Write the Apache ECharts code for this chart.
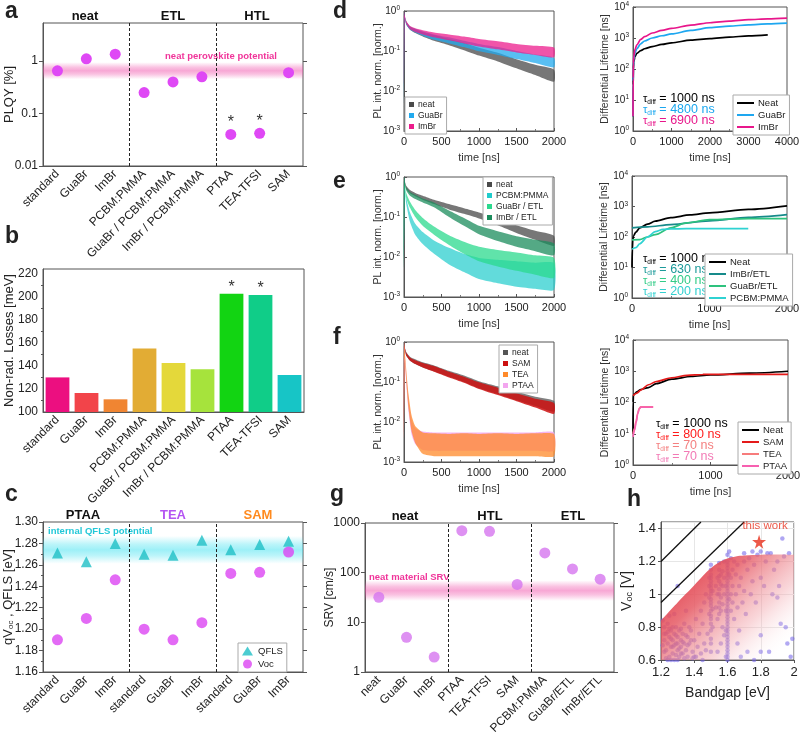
<!DOCTYPE html>
<html>
<head>
<meta charset="utf-8">
<script src="https://cdn.jsdelivr.net/npm/echarts@6.0.0/dist/echarts.min.js"></script>
<style>
html,body{margin:0;padding:0;background:#fff}
#chart{width:800px;height:735px}
</style>
</head>
<body>
<div id="chart"></div>
<script>
var FONT = 'Liberation Sans, Arial, sans-serif';

// ---------- a / b : samples
var sampleCats = ['standard','GuaBr','ImBr','PCBM:PMMA','GuaBr / PCBM:PMMA','ImBr / PCBM:PMMA','PTAA','TEA-TFSI','SAM'];
var plqy = [0.65, 1.1, 1.35, 0.25, 0.4, 0.5, 0.04, 0.042, 0.6];
var starred = [0, 0, 0, 0, 0, 0, 1, 1, 0];
var nonRadLoss = [130, 116.5, 111, 155, 142.5, 137, 202.5, 201.5, 132];
var lossColors = ['#ec0f80','#f2444a','#f08532','#e2ac34','#e4d83a','#a6e33c','#12d412','#10cd88','#17c5c6'];

// ---------- c : QFLS / Voc
var qflsCats = ['standard','GuaBr','ImBr','standard','GuaBr','ImBr','standard','GuaBr','ImBr'];
var qfls = [1.271, 1.263, 1.280, 1.270, 1.269, 1.283, 1.274, 1.279, 1.282];
var voc = [1.190, 1.210, 1.246, 1.200, 1.190, 1.206, 1.252, 1.253, 1.272];

// ---------- g : SRV
var srvCats = ['neat','GuaBr','ImBr','PTAA','TEA-TFSI','SAM','PCBM:PMMA','GuaBr/ETL','ImBr/ETL'];
var srv = [32, 5, 2, 700, 680, 58, 250, 119, 74];

// ---------- d/e/f left : PL decays (lower / upper edge of the noisy cloud)
var tD = [0, 10, 30, 80, 150, 250, 400, 600, 800, 1000, 1250, 1500, 1750, 2000];
var dNeatHi  = [1, 0.75, 0.55, 0.41, 0.35, 0.30, 0.25, 0.20, 0.16, 0.12, 0.09, 0.062, 0.045, 0.034];
var dNeatLo  = [0.004, 0.65, 0.46, 0.34, 0.28, 0.23, 0.18, 0.14, 0.105, 0.077, 0.055, 0.037, 0.025, 0.017];
var dGuaHi   = [1, 0.75, 0.55, 0.41, 0.36, 0.31, 0.26, 0.22, 0.18, 0.15, 0.125, 0.10, 0.082, 0.068];
var dGuaLo   = [0.004, 0.65, 0.46, 0.34, 0.29, 0.24, 0.19, 0.155, 0.125, 0.098, 0.08, 0.063, 0.05, 0.039];
var dImHi    = [1, 0.78, 0.57, 0.42, 0.37, 0.33, 0.29, 0.26, 0.23, 0.20, 0.175, 0.15, 0.135, 0.122];
var dImLo    = [0.015, 0.67, 0.48, 0.35, 0.30, 0.26, 0.22, 0.185, 0.155, 0.13, 0.11, 0.092, 0.08, 0.07];

var eNeatHi  = [1, 0.8, 0.6, 0.47, 0.40, 0.34, 0.27, 0.21, 0.165, 0.13, 0.092, 0.062, 0.045, 0.034];
var eNeatLo  = [0.005, 0.7, 0.5, 0.39, 0.33, 0.27, 0.21, 0.155, 0.12, 0.092, 0.062, 0.04, 0.027, 0.019];
var eImHi    = [1, 0.76, 0.56, 0.42, 0.36, 0.29, 0.23, 0.145, 0.094, 0.06, 0.044, 0.033, 0.027, 0.022];
var eImLo    = [0.005, 0.65, 0.46, 0.34, 0.28, 0.23, 0.175, 0.10, 0.06, 0.037, 0.025, 0.018, 0.014, 0.011];
var eGuaHi   = [1, 0.66, 0.40, 0.24, 0.15, 0.095, 0.058, 0.035, 0.024, 0.018, 0.015, 0.013, 0.011, 0.0095];
var eGuaLo   = [0.005, 0.55, 0.30, 0.17, 0.10, 0.06, 0.036, 0.02, 0.012, 0.0078, 0.0058, 0.0045, 0.0036, 0.003];
var ePcbmHi  = [1, 0.56, 0.30, 0.13, 0.068, 0.042, 0.026, 0.017, 0.012, 0.0095, 0.0085, 0.0078, 0.0072, 0.007];
var ePcbmLo  = [0.004, 0.45, 0.21, 0.075, 0.036, 0.021, 0.012, 0.0065, 0.0042, 0.0028, 0.0022, 0.0018, 0.0016, 0.0015];

var fNeatHi  = [1, 0.76, 0.56, 0.43, 0.37, 0.31, 0.26, 0.19, 0.145, 0.105, 0.078, 0.057, 0.043, 0.034];
var fNeatLo  = [0.005, 0.65, 0.45, 0.34, 0.28, 0.23, 0.185, 0.135, 0.10, 0.07, 0.05, 0.035, 0.025, 0.018];
var fSamHi   = [1, 0.74, 0.54, 0.41, 0.35, 0.30, 0.25, 0.18, 0.135, 0.098, 0.072, 0.052, 0.038, 0.03];
var fSamLo   = [0.005, 0.64, 0.45, 0.34, 0.28, 0.23, 0.18, 0.13, 0.096, 0.067, 0.047, 0.033, 0.023, 0.016];
var tF = [0, 10, 20, 40, 60, 100, 150, 250, 400, 600, 800, 1000, 1250, 1500, 1750, 2000];
var fTeaHi   = [1, 0.6, 0.35, 0.12, 0.05, 0.015, 0.008, 0.0055, 0.0052, 0.005, 0.0052, 0.005, 0.0052, 0.005, 0.0052, 0.005];
var fTeaLo   = [0.004, 0.4, 0.2, 0.06, 0.022, 0.006, 0.003, 0.0016, 0.0014, 0.0014, 0.0014, 0.0014, 0.0014, 0.0014, 0.0014, 0.0014];
var fPtaaHi  = [1, 0.55, 0.3, 0.1, 0.04, 0.012, 0.007, 0.0058, 0.0055, 0.0055, 0.0055, 0.0055, 0.0055, 0.0055, 0.0055, 0.0055];
var fPtaaLo  = [0.004, 0.35, 0.17, 0.05, 0.018, 0.005, 0.0028, 0.002, 0.0019, 0.0019, 0.0019, 0.0019, 0.0019, 0.0019, 0.0019, 0.0019];

// ---------- d/e/f right : differential lifetime
var dNeatT = [0, 5, 10, 20, 50, 100, 200, 300, 500, 750, 1000, 1500, 2000, 2500, 3000, 3500];
var dNeatV = [3, 30, 100, 170, 250, 320, 390, 450, 530, 620, 700, 850, 960, 1070, 1170, 1260];
var dGuaT  = [0, 5, 10, 20, 50, 100, 200, 300, 500, 750, 1000, 1500, 2000, 2500, 3000, 3500, 4000];
var dGuaV  = [3, 40, 120, 200, 330, 450, 650, 800, 1000, 1180, 1350, 1750, 2150, 2420, 2650, 2850, 3000];
var dImV   = [3, 50, 150, 250, 420, 600, 900, 1100, 1450, 1750, 2050, 2600, 3100, 3500, 3900, 4150, 4400];

var eNeatT = [0, 5, 10, 20, 50, 100, 200, 300, 500, 750, 1000, 1500, 2000];
var eNeatV = [10, 40, 80, 110, 145, 200, 265, 330, 430, 530, 620, 800, 1050];
var eImT   = [0, 200, 500, 1000, 1500, 2000];
var eImV   = [200, 215, 255, 340, 440, 540];
var eGuaT  = [0, 100, 200, 300, 500, 700, 1000, 1500, 2000];
var eGuaV  = [80, 82, 100, 120, 200, 290, 370, 400, 400];
var ePcbmT = [0, 50, 100, 200, 300, 400, 500, 700, 1000, 1500];
var ePcbmV = [40, 45, 60, 100, 150, 178, 185, 187, 187, 187];

var fNeatT = [0, 2, 5, 20, 50, 100, 200, 300, 500, 750, 1000, 1500, 2000];
var fNeatV = [10, 100, 170, 190, 220, 260, 300, 400, 560, 680, 760, 870, 1000];
var fSamT  = [0, 50, 100, 200, 300, 500, 700, 900, 1200, 1600, 2000];
var fSamV  = [165, 200, 250, 370, 470, 620, 740, 790, 800, 800, 800];
var fTeaT  = [0, 20, 40, 60, 80, 100, 260];
var fTeaV  = [10, 15, 25, 45, 65, 72, 72];
var fPtaaV = [8, 13, 23, 42, 62, 71, 71];

// ---------- h : Voc vs bandgap
var sqLineEg = [1.2, 1.44];
var sqLineV  = [1.2, 1.44];
var lossLineEg = [1.2, 1.7];
var lossLineV  = [0.95, 1.44];
var limitEg = [1.2, 1.3, 1.4, 1.45, 1.5, 1.55, 1.6, 1.65, 1.7, 1.8, 1.9, 2.0];
var limitV  = [0.84, 0.95, 1.055, 1.11, 1.158, 1.195, 1.218, 1.23, 1.236, 1.241, 1.242, 1.24];
var litPoints = [
  [1.21,0.84],[1.22,0.8],[1.22,0.72],[1.23,0.76],[1.23,0.66],[1.24,0.7],[1.24,0.82],[1.25,0.74],[1.25,0.62],
  [1.26,0.78],[1.26,0.68],[1.27,0.72],[1.27,0.64],[1.28,0.76],[1.28,0.6],[1.29,0.7],[1.29,0.8],[1.3,0.74],
  [1.3,0.66],[1.31,0.78],[1.31,0.62],[1.32,0.72],[1.32,0.68],[1.33,0.76],[1.33,0.64],[1.34,0.7],[1.34,0.82],
  [1.35,0.66],[1.36,0.74],[1.36,0.62],[1.37,0.7],[1.38,0.78],[1.39,0.65],[1.4,0.72],[1.41,0.62],[1.42,0.68],
  [1.43,0.76],[1.44,0.64],[1.46,0.7],[1.47,0.66],[1.25,0.87],[1.28,0.88],[1.3,1.05],[1.35,0.9],[1.4,0.62],
  [1.22,0.65],[1.26,0.6],[1.3,0.6],[1.24,0.77],[1.27,0.8],[1.29,0.75],[1.32,0.79],[1.37,0.8],[1.41,0.85],
  [1.21,0.69],[1.23,0.61],[1.25,0.79],[1.26,0.73],[1.28,0.69],[1.3,0.7],[1.31,0.67],[1.33,0.71],[1.35,0.75],
  [1.36,0.69],[1.38,0.72],[1.39,0.61],[1.27,0.68],[1.29,0.63],[1.24,0.6],[1.22,0.76],[1.34,0.61],[1.32,0.64],
  [1.45,0.82],[1.44,0.9],[1.46,0.95],[1.47,1.0],[1.48,0.76],[1.45,0.6],
  [1.5,0.7],[1.5,0.78],[1.5,0.85],[1.5,0.9],[1.5,0.95],[1.5,1.0],[1.5,1.04],[1.5,1.08],[1.5,1.12],[1.5,1.15],
  [1.49,0.98],[1.51,1.02],[1.49,0.88],[1.51,0.8],[1.5,0.65],[1.5,1.18],[1.49,1.1],
  [1.5,0.73],[1.5,0.82],[1.5,0.87],[1.5,0.93],[1.5,0.97],[1.5,1.02],[1.5,1.06],[1.5,1.1],[1.51,0.91],[1.49,1.05],
  [1.53,0.92],[1.53,1.05],[1.54,1.1],[1.54,0.85],[1.55,0.95],[1.55,1.0],[1.55,1.08],[1.55,1.15],[1.55,1.19],
  [1.56,0.9],[1.56,1.12],[1.57,1.05],[1.57,0.8],[1.58,1.0],[1.58,1.1],[1.58,1.2],[1.58,0.75],[1.56,0.7],[1.54,0.65],
  [1.55,0.88],[1.55,0.92],[1.55,1.03],[1.55,1.11],[1.56,0.98],[1.56,1.06],[1.57,0.94],[1.57,1.14],[1.54,1.0],
  [1.6,0.6],[1.6,0.64],[1.6,0.68],[1.6,0.72],[1.6,0.76],[1.6,0.8],[1.6,0.84],[1.6,0.88],[1.6,0.92],[1.6,0.96],
  [1.6,1.0],[1.6,1.04],[1.6,1.08],[1.6,1.12],[1.6,1.16],[1.6,1.2],[1.6,1.24],[1.61,1.26],[1.59,0.62],[1.59,0.9],
  [1.6,0.62],[1.6,0.66],[1.6,0.7],[1.6,0.74],[1.6,0.78],[1.6,0.82],[1.6,0.86],[1.6,0.9],[1.6,0.94],[1.6,0.98],
  [1.6,1.02],[1.6,1.06],[1.6,1.1],[1.6,1.14],[1.6,1.18],[1.59,1.05],[1.61,0.97],[1.59,0.78],[1.61,1.12],
  [1.62,0.9],[1.62,1.0],[1.62,1.1],[1.63,1.15],[1.63,0.95],[1.63,1.05],[1.64,1.2],[1.64,0.85],[1.65,1.0],
  [1.65,1.12],[1.66,0.92],[1.66,1.18],[1.67,1.05],[1.67,0.78],
  [1.68,1.1],[1.69,0.95],[1.7,1.2],[1.7,1.02],[1.71,0.88],[1.72,1.15],[1.73,1.22],[1.74,1.0],[1.75,1.08],
  [1.76,1.18],[1.77,0.95],[1.78,1.24],[1.8,0.75],[1.8,0.65],[1.8,1.1],[1.82,1.05],[1.83,1.2],
  [1.85,0.65],[1.86,1.25],[1.87,1.0],[1.88,1.15],[1.9,0.98],[1.9,1.2],[1.91,1.05],[1.92,0.82],[1.93,1.34],
  [1.94,1.23],[1.95,0.8],[1.96,0.7],[1.97,1.25],[1.98,0.62],[1.99,0.73],[1.72,0.65],[1.76,0.6],[1.68,0.62],
  [1.66,0.7],[1.7,1.25],[1.75,1.26],[1.84,1.25],[1.8,1.26],[1.62,1.22]
];
var thisWork = [[1.79, 1.32]];

// ---------------------------------------------------------------------------
var chart = echarts.init(document.getElementById('chart'));

function zip(a, b) { return a.map(function (v, i) { return [v, b[i]]; }); }
function plain(v) { return String(v); }

var grids = [
  {left: 43,  top: 23,  width: 260, height: 143},  // 0 a
  {left: 43,  top: 269, width: 261, height: 143},  // 1 b
  {left: 43,  top: 522, width: 260, height: 150},  // 2 c
  {left: 365, top: 523, width: 249, height: 149},  // 3 g
  {left: 404, top: 11,  width: 150, height: 120},  // 4 d left
  {left: 633, top: 7,   width: 154, height: 124},  // 5 d right
  {left: 404, top: 177, width: 150, height: 120},  // 6 e left
  {left: 632, top: 176, width: 155, height: 122},  // 7 e right
  {left: 404, top: 342, width: 150, height: 120},  // 8 f left
  {left: 633, top: 340, width: 155, height: 125},  // 9 f right
  {left: 661, top: 522, width: 133, height: 138}   // 10 h
];
grids.forEach(function (g) {
  g.show = true; g.borderColor = '#555'; g.borderWidth = 1; g.outerBoundsMode = 'none'; g.containLabel = false;
});

var axisLineSt = {show: true, lineStyle: {color: '#555', width: 1}};
var labelSt = {color: '#222', fontFamily: FONT};

function catX(gi, cats) {
  return {type: 'category', gridIndex: gi, data: cats, boundaryGap: true,
    axisLine: axisLineSt, axisTick: {alignWithLabel: true, length: 4, lineStyle: {color: '#555'}},
    splitLine: {show: false},
    axisLabel: Object.assign({interval: 0, rotate: 45, fontSize: 12, margin: 6}, labelSt)};
}
function topX(gi, cats) {
  return {type: 'category', gridIndex: gi, data: cats, position: 'top', boundaryGap: true,
    axisLine: {show: false}, axisLabel: {show: false}, splitLine: {show: false},
    axisTick: {alignWithLabel: true, length: 4, lineStyle: {color: '#555'}}};
}
function timeX(gi, max, step) {
  return {type: 'value', gridIndex: gi, min: 0, max: max, interval: step,
    name: 'time [ns]', nameLocation: 'middle', nameGap: 21, nameMoveOverlap: false,
    nameTextStyle: {fontSize: 11, color: '#333', fontFamily: FONT},
    axisLine: axisLineSt, axisTick: {inside: true, length: 3, lineStyle: {color: '#555'}},
    minorTick: {show: true, splitNumber: 2, length: 2, lineStyle: {color: '#777'}},
    splitLine: {show: false},
    axisLabel: Object.assign({fontSize: 11, margin: 5, formatter: plain}, labelSt)};
}
function helperX(gi) { return {type: 'value', gridIndex: gi, min: 0, max: 9, show: false}; }

function supFmt(v) { return '10{s|' + Math.round(Math.log(v) / Math.LN10) + '}'; }
function logSupY(gi, min, max, name, gap) {
  return {type: 'log', gridIndex: gi, min: min, max: max, logBase: 10,
    name: name, nameLocation: 'middle', nameGap: gap, nameMoveOverlap: false,
    nameTextStyle: {fontSize: 10.5, color: '#333', fontFamily: FONT},
    axisLine: axisLineSt, axisTick: {inside: true, length: 3, lineStyle: {color: '#555'}},
    splitLine: {show: false},
    axisLabel: {formatter: supFmt, fontSize: 10, color: '#222', fontFamily: FONT, margin: 4,
      rich: {s: {fontSize: 6.5, fontFamily: FONT, color: '#222', verticalAlign: 'top', lineHeight: 12}}}};
}
function mirrorY(gi, type, min, max, interval) {
  var ax = {type: type, gridIndex: gi, min: min, max: max, position: 'right',
    axisLine: {show: false}, axisLabel: {show: false}, splitLine: {show: false},
    axisTick: {length: 4, lineStyle: {color: '#555'}}};
  if (type === 'log') ax.logBase = 10;
  if (interval) ax.interval = interval;
  return ax;
}

var xAxes = [
  catX(0, sampleCats), catX(1, sampleCats), catX(2, qflsCats), catX(3, srvCats),
  timeX(4, 2000, 500), timeX(5, 4000, 1000), timeX(6, 2000, 500), timeX(7, 2000, 1000),
  timeX(8, 2000, 500), timeX(9, 2000, 1000),
  {type: 'value', gridIndex: 10, min: 1.2, max: 2, interval: 0.2,
    name: 'Bandgap [eV]', nameLocation: 'middle', nameGap: 26, nameMoveOverlap: false,
    nameTextStyle: {fontSize: 14, color: '#222', fontFamily: FONT},
    axisLine: axisLineSt, axisTick: {length: 3, lineStyle: {color: '#555'}},
    splitLine: {show: true, lineStyle: {color: '#e6e6e6'}},
    axisLabel: Object.assign({fontSize: 13, margin: 6}, labelSt)},
  helperX(0), helperX(2), helperX(3),
  topX(0, sampleCats), topX(1, sampleCats), topX(2, qflsCats), topX(3, srvCats)
];

var yAxes = [
  {type: 'log', gridIndex: 0, min: 0.01, max: 5.3, logBase: 10,
    name: 'PLQY [%]', nameLocation: 'middle', nameGap: 27, nameMoveOverlap: false,
    nameTextStyle: {fontSize: 13, color: '#222', fontFamily: FONT},
    axisLine: axisLineSt, axisTick: {length: 4, lineStyle: {color: '#555'}}, splitLine: {show: false},
    axisLabel: Object.assign({fontSize: 12, showMaxLabel: false, margin: 5}, labelSt)},
  {type: 'value', gridIndex: 1, min: 100, max: 224, interval: 20,
    name: 'Non-rad. Losses [meV]', nameLocation: 'middle', nameGap: 27, nameMoveOverlap: false,
    nameTextStyle: {fontSize: 13, color: '#222', fontFamily: FONT},
    axisLine: axisLineSt, axisTick: {length: 4, lineStyle: {color: '#555'}},
    minorTick: {show: true, splitNumber: 2, length: 2, lineStyle: {color: '#555'}},
    splitLine: {show: false},
    axisLabel: Object.assign({fontSize: 12, showMaxLabel: false, margin: 5}, labelSt)},
  {type: 'value', gridIndex: 2, min: 1.16, max: 1.30, interval: 0.02,
    name: '{n|qV}{s|oc}{n| , QFLS [eV]}', nameLocation: 'middle', nameGap: 28, nameMoveOverlap: false,
    nameTextStyle: {fontSize: 13, color: '#222', fontFamily: FONT,
      rich: {n: {fontSize: 13, fontFamily: FONT, color: '#222'}, s: {fontSize: 8, fontFamily: FONT, color: '#222', verticalAlign: 'bottom'}}},
    axisLine: axisLineSt, axisTick: {length: 4, lineStyle: {color: '#555'}},
    minorTick: {show: true, splitNumber: 2, length: 2, lineStyle: {color: '#555'}},
    splitLine: {show: false},
    axisLabel: Object.assign({fontSize: 12, margin: 5, formatter: function (v) { return v.toFixed(2); }}, labelSt)},
  {type: 'log', gridIndex: 3, min: 1, max: 1000, logBase: 10,
    name: 'SRV [cm/s]', nameLocation: 'middle', nameGap: 29, nameMoveOverlap: false,
    nameTextStyle: {fontSize: 12, color: '#222', fontFamily: FONT},
    axisLine: axisLineSt, axisTick: {length: 4, lineStyle: {color: '#555'}}, splitLine: {show: false},
    axisLabel: Object.assign({fontSize: 12, margin: 5, formatter: plain}, labelSt)},
  logSupY(4, 0.001, 1, 'PL int. norm. [norm.]', 20),
  logSupY(5, 1, 10000, 'Differential Lifetime [ns]', 22),
  logSupY(6, 0.001, 1, 'PL int. norm. [norm.]', 20),
  logSupY(7, 1, 10000, 'Differential Lifetime [ns]', 22),
  logSupY(8, 0.001, 1, 'PL int. norm. [norm.]', 20),
  logSupY(9, 1, 10000, 'Differential Lifetime [ns]', 22),
  {type: 'value', gridIndex: 10, min: 0.6, max: 1.44, interval: 0.2,
    name: '{n|V}{s|oc}{n| [V]}', nameLocation: 'middle', nameGap: 27, nameMoveOverlap: false,
    nameTextStyle: {fontSize: 14, color: '#222', fontFamily: FONT,
      rich: {n: {fontSize: 14, fontFamily: FONT, color: '#222'}, s: {fontSize: 9, fontFamily: FONT, color: '#222', verticalAlign: 'bottom'}}},
    axisLine: axisLineSt, axisTick: {length: 3, lineStyle: {color: '#555'}},
    splitLine: {show: true, lineStyle: {color: '#e6e6e6'}},
    axisLabel: Object.assign({fontSize: 13, showMaxLabel: false, margin: 5}, labelSt)},
  mirrorY(0, 'log', 0.01, 5.3), mirrorY(1, 'value', 100, 224, 20),
  mirrorY(2, 'value', 1.16, 1.30, 0.02), mirrorY(3, 'log', 1, 1000)
];

function vBand(rgb, a) {
  return new echarts.graphic.LinearGradient(0, 0, 0, 1, [
    {offset: 0, color: 'rgba(' + rgb + ',0)'},
    {offset: 0.3, color: 'rgba(' + rgb + ',' + (a * 0.7) + ')'},
    {offset: 0.5, color: 'rgba(' + rgb + ',' + a + ')'},
    {offset: 0.7, color: 'rgba(' + rgb + ',' + (a * 0.7) + ')'},
    {offset: 1, color: 'rgba(' + rgb + ',0)'}
  ]);
}
function dividers(xi, yi) {
  return {type: 'line', xAxisIndex: xi, yAxisIndex: yi, data: [], silent: true,
    markLine: {symbol: 'none', silent: true, label: {show: false},
      lineStyle: {type: [3, 2], color: '#222', width: 1},
      data: [{xAxis: 3}, {xAxis: 6}]}};
}
function band(name, gi, t, lo, hi, color, op) {
  return {name: name, type: 'custom', xAxisIndex: gi, yAxisIndex: gi, itemStyle: {color: color},
    data: t.map(function (v, i) { return [v, lo[i], hi[i]]; }),
    encode: {x: 0, y: [1, 2]},
    renderItem: function (params, api) {
      if (params.dataIndex !== 0) return null;
      var pts = [];
      for (var i = 0; i < t.length; i++) pts.push(api.coord([t[i], lo[i]]));
      for (var j = t.length - 1; j >= 0; j--) pts.push(api.coord([t[j], hi[j]]));
      return {type: 'polygon', shape: {points: pts, smooth: 0.2}, style: {fill: color, opacity: op}};
    }};
}
function curve(name, gi, t, v, color) {
  return {name: name, type: 'line', xAxisIndex: gi, yAxisIndex: gi, data: zip(t, v),
    symbol: 'none', showSymbol: false, smooth: 0.3, smoothMonotone: 'x',
    lineStyle: {color: color, width: 1.7}, itemStyle: {color: color}, z: 3};
}
function starLabel() {
  return {show: true, formatter: '*', position: 'top', distance: -2, fontSize: 16, color: '#333', fontFamily: FONT};
}

var series = [
  // a
  {type: 'scatter', xAxisIndex: 0, yAxisIndex: 0, symbolSize: 11, itemStyle: {color: '#df48f5', opacity: 1},
    data: plqy.map(function (v, i) { return starred[i] ? {value: [i, v], label: starLabel()} : [i, v]; }),
    markArea: {silent: true, itemStyle: {color: vBand('240,80,170', 0.5)}, data: [[{yAxis: 0.45}, {yAxis: 0.95}]]}, z: 4},
  dividers(11, 0),
  // b
  {type: 'bar', xAxisIndex: 1, yAxisIndex: 1, barCategoryGap: '18%',
    data: nonRadLoss.map(function (v, i) {
      var d = {value: v, itemStyle: {color: lossColors[i]}};
      if (starred[i]) d.label = starLabel();
      return d;
    })},
  // c
  {name: 'c|QFLS', type: 'scatter', xAxisIndex: 2, yAxisIndex: 2, symbol: 'triangle', symbolSize: 11,
    itemStyle: {color: '#1fbfc5'}, data: qfls.map(function (v, i) { return [i, v]; }),
    markArea: {silent: true, itemStyle: {color: vBand('60,225,240', 0.5)}, data: [[{yAxis: 1.261}, {yAxis: 1.287}]]}, z: 4},
  {name: 'c|Voc', type: 'scatter', xAxisIndex: 2, yAxisIndex: 2, symbolSize: 11,
    itemStyle: {color: '#dc45f3'}, data: voc.map(function (v, i) { return [i, v]; }), z: 4},
  dividers(12, 2),
  // g
  {type: 'scatter', xAxisIndex: 3, yAxisIndex: 3, symbolSize: 11, itemStyle: {color: '#d675ef'},
    data: srv.map(function (v, i) { return [i, v]; }),
    markArea: {silent: true, itemStyle: {color: vBand('240,80,170', 0.5)}, data: [[{yAxis: 27}, {yAxis: 70}]]}, z: 4},
  dividers(13, 3),
  // d left
  band('dL|neat', 4, tD, dNeatLo, dNeatHi, '#4a4a4a', 0.75),
  band('dL|GuaBr', 4, tD, dGuaLo, dGuaHi, '#22aaee', 0.75),
  band('dL|ImBr', 4, tD, dImLo, dImHi, '#ec1c8c', 0.75),
  // d right
  curve('dR|Neat', 5, dNeatT, dNeatV, '#000000'),
  curve('dR|GuaBr', 5, dGuaT, dGuaV, '#1ea7f0'),
  curve('dR|ImBr', 5, dGuaT, dImV, '#e8168b'),
  // e left
  band('eL|neat', 6, tD, eNeatLo, eNeatHi, '#4a4a4a', 0.75),
  band('eL|PCBM:PMMA', 6, tD, ePcbmLo, ePcbmHi, '#1fcccc', 0.7),
  band('eL|GuaBr / ETL', 6, tD, eGuaLo, eGuaHi, '#2bd98e', 0.75),
  band('eL|ImBr / ETL', 6, tD, eImLo, eImHi, '#1b8c5c', 0.75),
  // e right
  curve('eR|Neat', 7, eNeatT, eNeatV, '#000000'),
  curve('eR|ImBr/ETL', 7, eImT, eImV, '#168a8a'),
  curve('eR|GuaBr/ETL', 7, eGuaT, eGuaV, '#2ec27e'),
  curve('eR|PCBM:PMMA', 7, ePcbmT, ePcbmV, '#2fd2d2'),
  // f left
  band('fL|neat', 8, tD, fNeatLo, fNeatHi, '#555555', 0.75),
  band('fL|SAM', 8, tD, fSamLo, fSamHi, '#cc1010', 0.85),
  band('fL|PTAA', 8, tF, fPtaaLo, fPtaaHi, '#f3a6ef', 0.85),
  band('fL|TEA', 8, tF, fTeaLo, fTeaHi, '#ff8a2a', 0.75),
  // f right
  curve('fR|Neat', 9, fNeatT, fNeatV, '#000000'),
  curve('fR|SAM', 9, fSamT, fSamV, '#e41a1a'),
  curve('fR|TEA', 9, fTeaT, fTeaV, '#f77c7c'),
  curve('fR|PTAA', 9, fTeaT, fPtaaV, '#f760b0'),
  // h
  {type: 'line', xAxisIndex: 10, yAxisIndex: 10, data: zip(limitEg, limitV), symbol: 'none', smooth: 0.4,
    lineStyle: {width: 0}, silent: true,
    areaStyle: {origin: 'start', opacity: 1, color: new echarts.graphic.LinearGradient(0.1, 0, 0.85, 1, [
      {offset: 0, color: 'rgba(224,50,62,1)'},
      {offset: 0.35, color: 'rgba(230,90,100,0.85)'},
      {offset: 0.7, color: 'rgba(242,165,172,0.45)'},
      {offset: 1, color: 'rgba(255,255,255,0)'}])}},
  {type: 'scatter', xAxisIndex: 10, yAxisIndex: 10, data: litPoints, symbolSize: 4.5,
    itemStyle: {color: 'rgba(112,96,232,0.7)'}, silent: true},
  {type: 'line', xAxisIndex: 10, yAxisIndex: 10, data: zip(sqLineEg, sqLineV), symbol: 'none',
    lineStyle: {color: '#111', width: 1.3}, clip: true},
  {type: 'line', xAxisIndex: 10, yAxisIndex: 10, data: zip(lossLineEg, lossLineV), symbol: 'none',
    lineStyle: {color: '#111', width: 1.3}, clip: true},
  {type: 'scatter', xAxisIndex: 10, yAxisIndex: 10, data: thisWork, symbolSize: 14,
    symbol: 'path://M50,0 L61,35 L98,35 L68,57 L79,91 L50,70 L21,91 L32,57 L2,35 L39,35 Z',
    itemStyle: {color: '#e8301c'},
    label: {show: true, formatter: 'this work', position: 'top', distance: 3, offset: [6, 0],
      fontSize: 11.5, color: '#e8301c', fontFamily: FONT}, z: 5}
];

function legendBox(names, left, top, lineIcon, extra) {
  var l = {data: names, left: left, top: top, orient: 'vertical', itemGap: 2,
    icon: 'rect', itemWidth: lineIcon ? 17 : 5, itemHeight: lineIcon ? 2 : 5,
    padding: [3, 4, 3, 4], borderColor: '#aaa', borderWidth: 1, backgroundColor: '#fff',
    selectedMode: false,
    formatter: function (n) { return n.split('|')[1]; },
    textStyle: {fontSize: lineIcon ? 9.5 : 8.5, color: '#222', fontFamily: FONT, padding: [0, 0, 0, -1]}};
  return Object.assign(l, extra || {});
}

var legends = [
  legendBox(['c|QFLS', 'c|Voc'], 238, 643, false, {icon: null, itemWidth: 11, itemHeight: 9, itemGap: 3,
    textStyle: {fontSize: 9.5, color: '#222', fontFamily: FONT}}),
  legendBox(['dL|neat', 'dL|GuaBr', 'dL|ImBr'], 405, 97, false),
  legendBox(['eL|neat', 'eL|PCBM:PMMA', 'eL|GuaBr / ETL', 'eL|ImBr / ETL'], 483, 177, false),
  legendBox(['fL|neat', 'fL|SAM', 'fL|TEA', 'fL|PTAA'], 499, 345, false),
  legendBox(['dR|Neat', 'dR|GuaBr', 'dR|ImBr'], 733, 95, true),
  legendBox(['eR|Neat', 'eR|ImBr/ETL', 'eR|GuaBr/ETL', 'eR|PCBM:PMMA'], 705, 254, true),
  legendBox(['fR|Neat', 'fR|SAM', 'fR|TEA', 'fR|PTAA'], 738, 422, true)
];

function txt(x, y, s, font, color, align) {
  return {type: 'text', x: x, y: y, silent: true,
    style: {text: s, font: font, fill: color, align: align || 'center', verticalAlign: 'middle'}};
}
function letter(x, y, s) { return txt(x, y, s, 'bold 23px ' + FONT, '#222', 'left'); }
function tau(x, y, val, color) {
  return {type: 'text', x: x, y: y, silent: true, style: {
    text: '{t|τ}{s|diff}{n| = ' + val + ' ns}', align: 'left', verticalAlign: 'middle',
    rich: {t: {fontSize: 11, fontFamily: FONT, fill: color, lineHeight: 13},
           s: {fontSize: 6.5, fontFamily: FONT, fill: color, lineHeight: 13, verticalAlign: 'bottom'},
           n: {fontSize: 12.5, fontFamily: FONT, fill: color, lineHeight: 13}}}};
}
var B13 = 'bold 13px ' + FONT;
var graphics = [
  letter(5, 12, 'a'), letter(5, 237, 'b'), letter(5, 495, 'c'),
  letter(333, 12, 'd'), letter(333, 182, 'e'), letter(333, 338, 'f'),
  letter(330, 495, 'g'), letter(627, 500, 'h'),
  txt(85, 16, 'neat', B13, '#111'), txt(173, 16, 'ETL', B13, '#111'), txt(257, 16, 'HTL', B13, '#111'),
  txt(221, 56, 'neat perovskite potential', 'bold 9.5px ' + FONT, '#f0359a'),
  txt(83, 515, 'PTAA', B13, '#111'), txt(173, 515, 'TEA', B13, '#b455f2'), txt(258, 515, 'SAM', B13, '#ff8a1e'),
  txt(48, 531, 'internal QFLS potential', 'bold 9.5px ' + FONT, '#22c8d8', 'left'),
  txt(405, 516, 'neat', B13, '#111'), txt(490, 516, 'HTL', B13, '#111'), txt(573, 516, 'ETL', B13, '#111'),
  txt(369, 577, 'neat material SRV', 'bold 9.5px ' + FONT, '#f0359a', 'left'),
  tau(643, 99, '1000', '#000'), tau(643, 110, '4800', '#1aa7ef'), tau(643, 121, '6900', '#e8168b'),
  tau(643, 259, '1000', '#000'), tau(643, 270, '630', '#1c9a9a'), tau(643, 281, '400', '#33cc88'), tau(643, 292, '200', '#33d0d0'),
  tau(656, 424, '1000', '#000'), tau(656, 435, '800', '#ff1a1a'), tau(656, 446, '70', '#f48080'), tau(656, 457, '70', '#f27ab5')
];

chart.setOption({
  animation: false,
  backgroundColor: '#ffffff',
  textStyle: {fontFamily: FONT},
  grid: grids,
  xAxis: xAxes,
  yAxis: yAxes,
  legend: legends,
  series: series,
  graphic: graphics
});
</script>
</body>
</html>
